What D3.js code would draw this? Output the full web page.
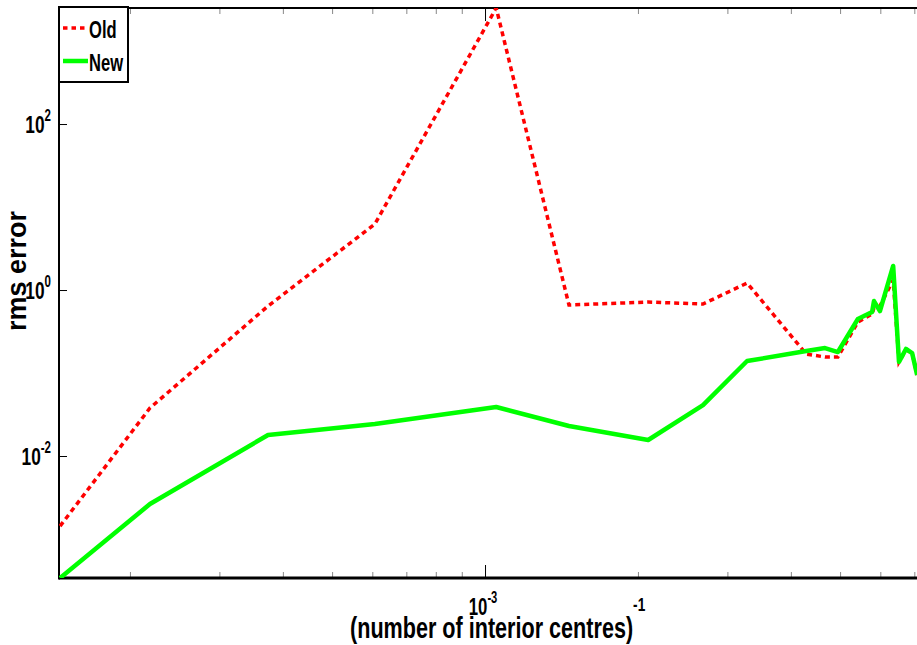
<!DOCTYPE html>
<html>
<head>
<meta charset="utf-8">
<script src="https://cdn.jsdelivr.net/npm/d3@7"></script>
<style>
    body { margin: 0; background: #fff; }
    svg { display: block; }
    text { font-family: "Liberation Sans", Arial, sans-serif; fill: #000; }
</style>
</head>
<body>
<div id="chart"></div>
<script>
// (number of interior centres)^-1, shared by both series
const xValues = [1.457e-4, 2.19e-4, 3.74e-4, 6.07e-4, 1.052e-3, 1.463e-3, 2.095e-3, 2.686e-3,
    3.28e-3, 4.29e-3, 4.67e-3, 4.95e-3, 5.42e-3, 5.78e-3, 5.83e-3, 5.99e-3,
    6.36e-3, 6.53e-3, 6.74e-3, 6.93e-3, 7.09e-3];
const oldErrors = [1.43e-3, 0.0379, 0.641, 6.24, 2500, 0.659, 0.717, 0.678,
    1.214, 0.169, 0.156, 0.156, 0.411, 0.514, 0.607, 0.641,
    1.32, 0.136, 0.190, 0.174, 0.0946];
const newErrors = [3.39e-4, 2.64e-3, 0.0179, 0.0243, 0.0389, 0.0230, 0.0156, 0.0411,
    0.1395, 0.184, 0.200, 0.179, 0.448, 0.543, 0.736, 0.558,
    1.95, 0.136, 0.195, 0.174, 0.0946];
const seriesNames = ['Old', 'New'];
const xDomain = [1.45e-4, 7.15e-3];
const yDomain = [3.39e-4, 2500];
const xMajorTicks = [1e-3];
const xTickExponents = ['-3'];
const yMajorTicks = [1e-2, 1, 1e2];
const yTickExponents = ['-2', '0', '2'];

const width = 917, height = 645;
const plot = { left: 59, right: 919, top: 8, bottom: 578 };

const svg = d3.select('#chart').append('svg')
    .attr('width', width)
    .attr('height', height);

const x = d3.scaleLog().domain(xDomain).range([plot.left, plot.right]);
const y = d3.scaleLog().domain(yDomain).range([plot.bottom, plot.top]);

svg.append('defs').append('clipPath').attr('id', 'clip')
    .append('rect')
    .attr('x', plot.left).attr('y', plot.top)
    .attr('width', plot.right - plot.left).attr('height', plot.bottom - plot.top);

// condensed bold-ish text, like the narrow helvetica of the original
function narrowText(px, py, size, anchor, sx) {
    return svg.append('g')
        .attr('transform', `translate(${px},${py}) scale(${sx},1)`)
        .append('text')
        .attr('text-anchor', anchor)
        .style('font-weight', 'bold')
        .style('font-size', size + 'px');
}

// minor x ticks (k * 10^n), from the log scale
const xMinor = x.ticks().filter(t => !xMajorTicks.some(m => Math.abs(t - m) / m < 1e-6));

const bottomMinor = d3.axisBottom(x).tickValues(xMinor).tickSize(-6).tickFormat('');
const topMinor = d3.axisTop(x).tickValues(xMinor).tickSize(-6).tickFormat('');
const bottomMajor = d3.axisBottom(x).tickValues(xMajorTicks).tickSize(-13).tickFormat('');
const topMajor = d3.axisTop(x).tickValues(xMajorTicks).tickSize(-13).tickFormat('');
const leftMajor = d3.axisLeft(y).tickValues(yMajorTicks).tickSize(-8).tickFormat('');

function addAxis(axis, tx, ty, color) {
    const g = svg.append('g')
        .attr('transform', `translate(${tx},${ty})`)
        .call(axis);
    g.select('.domain').remove();
    g.selectAll('.tick line').attr('stroke', color).attr('stroke-width', 1);
    return g;
}
addAxis(bottomMinor, 0, plot.bottom, '#888');
addAxis(topMinor, 0, plot.top, '#888');
addAxis(bottomMajor, 0, plot.bottom, '#000');
addAxis(topMajor, 0, plot.top, '#000');
addAxis(leftMajor, plot.left, 0, '#000');

// frame
svg.append('line').attr('x1', plot.left).attr('x2', plot.right)
    .attr('y1', plot.top).attr('y2', plot.top)
    .attr('stroke', '#000').attr('stroke-width', 2);
svg.append('line').attr('x1', plot.left).attr('x2', plot.right)
    .attr('y1', plot.bottom).attr('y2', plot.bottom)
    .attr('stroke', '#000').attr('stroke-width', 3);
svg.append('line').attr('x1', plot.left).attr('x2', plot.left)
    .attr('y1', plot.top).attr('y2', plot.bottom + 1.5)
    .attr('stroke', '#000').attr('stroke-width', 2);

// lines
const line = d3.line().x((d, i) => x(xValues[i])).y(d => y(d));
const lines = svg.append('g').attr('clip-path', 'url(#clip)');
lines.append('path')
    .attr('d', line(oldErrors))
    .attr('fill', 'none')
    .attr('stroke', '#ff0000')
    .attr('stroke-width', 3.5)
    .attr('stroke-dasharray', '5,4');
lines.append('path')
    .attr('d', line(newErrors))
    .attr('fill', 'none')
    .attr('stroke', '#00ff00')
    .attr('stroke-width', 4.5)
    .attr('stroke-linejoin', 'round');

// tick labels
xMajorTicks.forEach((t, i) => {
    const label = narrowText(x(t) - 2, 615, 24, 'middle', 0.7);
    label.append('tspan').text('10');
    label.append('tspan').attr('dy', -12).style('font-size', '16px').text(xTickExponents[i]);
});
yMajorTicks.forEach((t, i) => {
    const label = narrowText(51, y(t) + 9, 24, 'end', 0.72);
    label.append('tspan').text('10');
    label.append('tspan').attr('dy', -12).style('font-size', '16px').text(yTickExponents[i]);
});

// axis titles
const xTitle = narrowText(350, 638, 30, 'start', 0.72);
xTitle.append('tspan').text('(number of interior centres)');
xTitle.append('tspan').attr('dy', -27).style('font-size', '19px').text('-1');

svg.append('text')
    .attr('transform', 'translate(26,271) rotate(-90)')
    .attr('text-anchor', 'middle')
    .style('font-weight', 'bold')
    .style('font-size', '27px')
    .text('rms error');

// legend
const legend = svg.append('g');
legend.append('rect')
    .attr('x', plot.left).attr('y', plot.top - 1)
    .attr('width', 69).attr('height', 75)
    .attr('fill', '#fff').attr('stroke', '#000').attr('stroke-width', 2);
const legendStyles = [
    { color: '#ff0000', width: 3.5, dash: '4.5,4', y: 28 },
    { color: '#00ff00', width: 4.5, dash: null, y: 61 }
];
seriesNames.forEach((name, i) => {
    const s = legendStyles[i];
    legend.append('line')
        .attr('x1', 63).attr('x2', 88)
        .attr('y1', s.y).attr('y2', s.y)
        .attr('stroke', s.color).attr('stroke-width', s.width)
        .attr('stroke-dasharray', s.dash);
    narrowText(89, s.y + 10, 23, 'start', 0.72).text(name);
});
</script>
</body>
</html>
